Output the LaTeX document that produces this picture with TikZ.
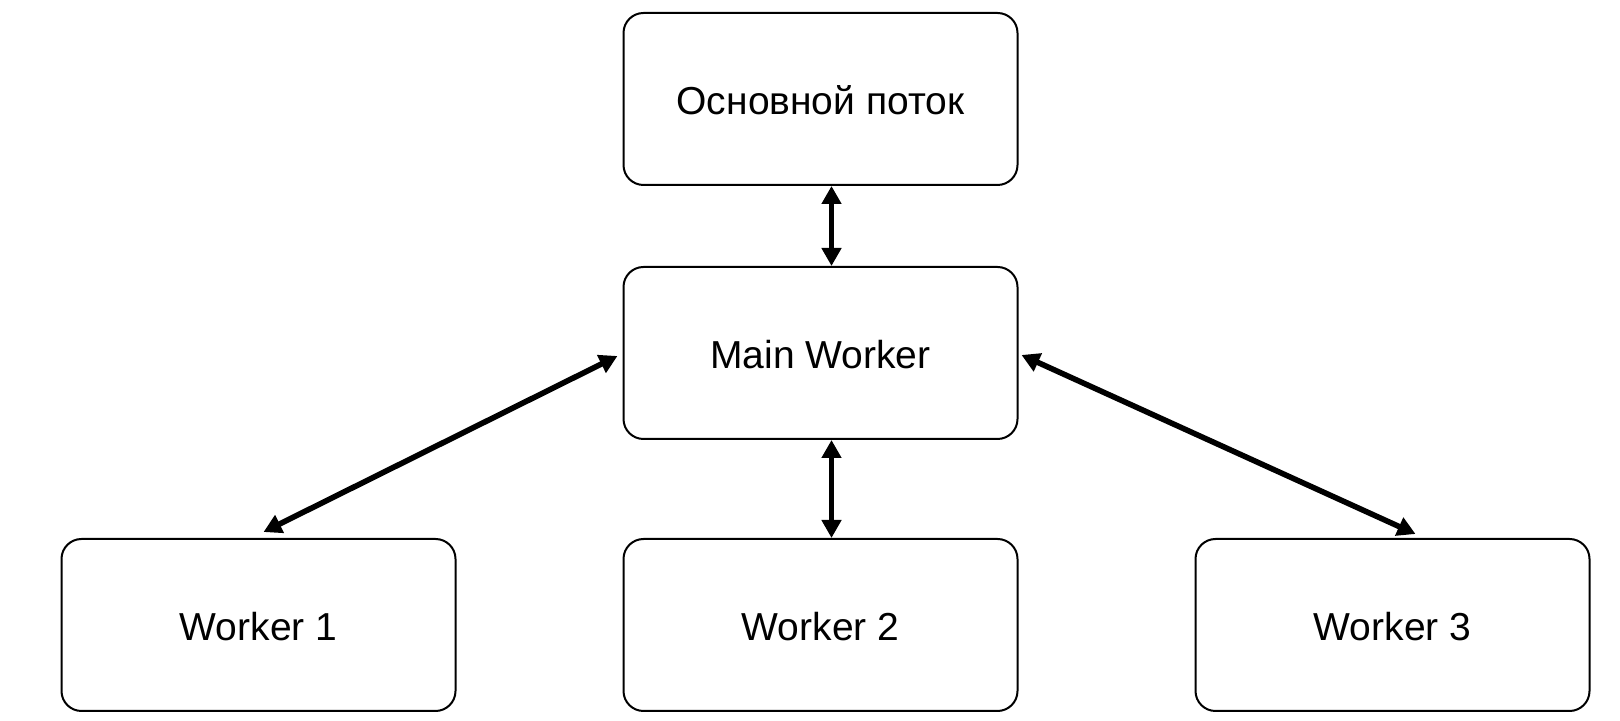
\documentclass[tikz,border=0pt]{standalone}
\usepackage{fontspec}
\setmainfont{Liberation Sans}
\usetikzlibrary{positioning,arrows.meta}

\begin{document}
\begin{tikzpicture}[
    box/.style={rectangle, draw=black, line width=1pt, rounded corners=10pt,
              minimum width=197pt, minimum height=86pt, align=center, text height=16pt,
              font=\fontsize{19.5}{23}\selectfont},
    link/.style={{Triangle[length=9pt,width=9.5pt]}-{Triangle[length=9pt,width=9.5pt]}, line width=2.8pt}
]
    \useasboundingbox (0pt,0pt) rectangle (810pt,360.5pt);
    \node[box] (main) at (410.25pt,184pt) {Main Worker};
    \node[box, above=40pt of main] (thread) {Основной поток};
    \node[box, below=49pt of main] (w2) {Worker 2};
    \node[box, left=83pt of w2] (w1) {Worker 1};
    \node[box, right=88pt of w2] (w3) {Worker 3};
    \draw[link] ([xshift=5.5pt]thread.south) -- ([xshift=5.5pt]main.north);
    \draw[link] ([xshift=5.5pt]main.south) -- ([xshift=5.5pt]w2.north);
    \draw[link] ([xshift=-2.5pt,yshift=-1.5pt]main.west) -- ([xshift=2.5pt,yshift=3pt]w1.north);
    \draw[link] ([xshift=1.5pt,yshift=-1pt]main.east) -- ([xshift=11.5pt,yshift=2pt]w3.north);
\end{tikzpicture}
\end{document}
